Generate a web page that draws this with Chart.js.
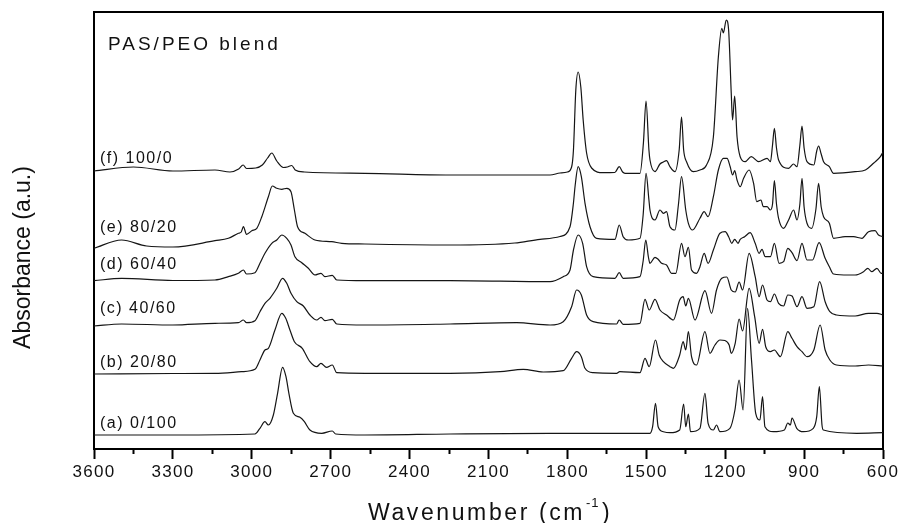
<!DOCTYPE html>
<html>
<head>
<meta charset="utf-8">
<script src="https://cdn.jsdelivr.net/npm/chart.js@4.4.0/dist/chart.umd.min.js"></script>
<style>
  html, body { margin: 0; padding: 0; background: #fff; }
  canvas { display: block; }
</style>
</head>
<body>
<canvas id="ftir" width="901" height="523"></canvas>
<script>
// FTIR spectra of PAS/PEO blends, [wavenumber (cm-1), absorbance (a.u., stacked)]
var traceF = [[3600,278],[3450,282],[3300,278],[3140,279],[3083,277],[3050,280],[3033,284],[3020,280.5],[2985,281],[2960,284],[2940,291],[2924,296],[2905,288],[2880,281.5],[2865,282],[2848,283.5],[2835,279],[2800,277],[2570,275.7],[2246,274],[1866,274],[1828,276],[1800,277],[1784,282],[1777,299],[1768,359],[1759,377],[1749,362],[1740,329],[1727,296],[1708,281],[1664,276.3],[1620,276.5],[1603,282.3],[1590,277],[1581,275.7],[1524,275.7],[1511,306],[1501,348],[1490,299],[1486,289],[1467,277.3],[1448,285],[1435,287],[1423,288.3],[1410,282.3],[1391,277.3],[1375,299],[1366,332],[1358,299],[1347,287.3],[1321,277.3],[1296,279],[1271,284],[1245,312],[1226,392],[1213,420.7],[1207,416],[1196,429],[1187,419],[1177,355.7],[1172,329],[1164,353],[1155,312.3],[1143,292.3],[1124,287.3],[1101,292.3],[1073,287.3],[1041,290.7],[1028,287.3],[1020,304],[1013,320.7],[1005,301],[997,289],[959,280.7],[940,285],[927,282.3],[916,304],[908,323],[900,301],[889,287.3],[863,284],[852,298],[845,303],[835,295],[826,287.3],[804,282.3],[788,275.7],[706,277.3],[667,279],[635,286],[610,292.3],[600,297]];

var traceE = [[3600,200.7],[3495,209],[3400,203],[3300,202],[3140,208.3],[3089,210.7],[3051,215.7],[3040,217],[3032,222.3],[3020,214.7],[3000,218.3],[2981,220.7],[2962,232.3],[2937,252.3],[2922,263],[2905,260.7],[2886,259.7],[2867,260.7],[2851,257.3],[2838,239],[2826,222.3],[2798,215.7],[2760,209],[2696,207.3],[2658,205.7],[2570,205],[2246,204],[2000,206],[1904,209.7],[1828,212.5],[1790,222.3],[1777,246],[1771,262.3],[1759,282.3],[1747,272.3],[1733,245.7],[1714,222.3],[1689,210.7],[1619,209.7],[1603,224],[1588,212.3],[1568,209],[1524,210.7],[1512,234],[1501,275.7],[1490,249],[1486,239],[1467,229],[1448,239],[1435,235.7],[1423,237.3],[1410,222.3],[1391,219],[1378,244],[1366,272.3],[1350,239],[1340,225.7],[1324,219],[1296,230.7],[1280,237.3],[1265,232.3],[1245,252.3],[1226,279],[1207,290.7],[1193,290.7],[1181,282.3],[1172,274],[1164,278.3],[1155,269],[1143,262.3],[1130,270.7],[1109,279],[1092,265.7],[1080,247.3],[1064,249],[1055,242.3],[1041,242.3],[1028,239],[1020,245],[1013,268.3],[1005,245],[997,230.7],[978,220.7],[959,229],[940,239],[927,229],[916,245],[908,270.7],[900,242],[889,225.7],[871,220.7],[855,240],[845,265.7],[835,242],[826,232.3],[804,225.7],[788,210.7],[744,212.3],[712,212.3],[680,210.7],[655,217.3],[630,218.3],[617,214],[600,212.3]];

var traceD = [[3600,168.3],[3495,170.7],[3300,168.5],[3140,169],[3089,172.3],[3051,175.7],[3032,179],[3020,175],[2988,176.3],[2969,185.7],[2950,195.7],[2924,205.7],[2905,209],[2886,214],[2867,210.7],[2851,204],[2836,192.3],[2810,186.3],[2785,180.7],[2760,174],[2737,175.7],[2722,172.3],[2694,173.7],[2677,169],[2570,168.3],[2246,168.3],[1866,167.3],[1816,172.3],[1790,179],[1777,199],[1759,214],[1742,205.7],[1727,182.3],[1702,172.3],[1619,170.7],[1603,176.3],[1588,170.7],[1524,172.3],[1512,188],[1502,209],[1492,192],[1486,185.7],[1467,191.7],[1455,189.7],[1442,185.7],[1423,184],[1404,175.7],[1388,175.7],[1366,205.7],[1353,192.3],[1340,201.7],[1328,179],[1309,175.7],[1296,182.3],[1280,195.7],[1265,185.7],[1245,199],[1220,215.7],[1200,217.3],[1187,212.3],[1175,205.7],[1164,209.7],[1151,205.7],[1143,209.7],[1126,212.3],[1105,216.3],[1086,205.7],[1071,195.7],[1060,199.7],[1048,192.3],[1028,192.3],[1013,205.7],[995,185.7],[978,187.3],[962,200.7],[946,196.3],[927,188.3],[908,205.7],[889,189],[868,189],[843,206.3],[820,190.7],[804,182.3],[788,175],[731,174],[706,174],[674,177.3],[658,180.7],[643,177.3],[623,180.7],[607,175.7],[600,176]];

var traceC = [[3600,123],[3495,125],[3300,124],[3140,125.7],[3051,126.3],[3032,129],[3020,126.3],[2988,128.3],[2969,137.3],[2950,145.7],[2931,150.7],[2905,160.7],[2883,170.7],[2867,165.7],[2851,155.7],[2829,147.3],[2804,143],[2779,134],[2753,129],[2737,131.7],[2722,128.3],[2694,129.7],[2677,125],[2570,124],[2246,125],[1993,126.3],[1866,124],[1816,127.3],[1784,142.3],[1765,159],[1747,154],[1727,134],[1702,127.3],[1613,125],[1603,129],[1588,124.7],[1524,125.7],[1505,149.7],[1489,139],[1467,149.7],[1448,139],[1423,134],[1397,129],[1373,149],[1360,152.3],[1350,143],[1340,150.7],[1315,129],[1277,158.3],[1252,135.7],[1233,159],[1213,170.7],[1194,172],[1177,159],[1162,157],[1147,167],[1134,159],[1109,195.7],[1086,172.3],[1071,152.3],[1058,164],[1041,149],[1028,147.3],[1013,155],[997,145.7],[978,143],[962,154],[946,153],[927,142.3],[908,152.3],[889,140.7],[863,142.3],[841,167.3],[820,147.3],[802,137.3],[777,134],[706,133],[655,135.7],[623,135.7],[600,134]];

var traceB = [[3600,75],[3300,75.5],[3140,75.7],[3039,77.3],[2988,79.7],[2969,89],[2950,99],[2937,100.7],[2912,119],[2886,135.7],[2871,130.7],[2855,119],[2838,107.3],[2808,100.7],[2779,87.3],[2753,82.3],[2737,85.7],[2716,81.7],[2694,84],[2677,76.3],[2570,75.7],[2246,75.7],[2056,77.3],[1968,79.7],[1892,77],[1816,78.3],[1784,90.7],[1765,97.3],[1747,92.3],[1733,80.7],[1702,76.3],[1613,75.7],[1601,77.3],[1524,76.3],[1505,90.7],[1489,82.3],[1465,109],[1451,94],[1435,87.3],[1410,82.3],[1397,80.7],[1373,94],[1360,107.3],[1350,99],[1340,117.3],[1328,92.3],[1309,84],[1277,117.3],[1258,95.7],[1239,104],[1220,109],[1201,108.5],[1185,104],[1177,95.7],[1162,105.7],[1147,130],[1134,118],[1109,160.7],[1088,132.3],[1071,105.7],[1058,119.7],[1046,102.3],[1028,97.3],[1013,99],[990,92.3],[962,117.3],[946,110.7],[927,102.3],[908,97.3],[889,92.3],[863,99],[839,124],[820,99],[802,89],[777,84],[706,83],[655,84],[600,83]];

var traceA = [[3600,14],[3300,14],[2988,15],[2969,20.7],[2950,27.3],[2937,24],[2918,34],[2902,55.7],[2883,81.7],[2870,72.3],[2859,55.7],[2842,35.7],[2817,31.7],[2800,27.3],[2779,19],[2734,15.7],[2694,18],[2681,15],[2570,14],[2246,15],[1866,15.7],[1486,15.7],[1476,22.3],[1465,45.7],[1455,22.3],[1435,17.3],[1410,16.3],[1373,19],[1358,45],[1350,22.3],[1340,35],[1332,17.3],[1296,20.7],[1277,55.7],[1265,25.7],[1245,19],[1233,24],[1220,17.3],[1182,20.7],[1163,39],[1147,69],[1132,39],[1115,140.7],[1100,89],[1084,35.7],[1068,29],[1058,52.3],[1049,22.3],[1017,17.3],[975,19],[962,26],[952,24],[946,31],[928,20.7],[903,17.3],[865,20.7],[852,32.3],[842,62.3],[832,24],[827,19],[700,15.7],[600,16.3]];

var traces = [traceF, traceE, traceD, traceC, traceB, traceA];
var traceLabels = ['(f) 100/0', '(e) 80/20', '(d) 60/40', '(c) 40/60', '(b) 20/80', '(a) 0/100'];
var labelBaseY = [163, 231.5, 269, 312.5, 366.5, 428];
var panelTitle = 'PAS/PEO blend';

var FONT = "'Liberation Sans', Arial, sans-serif";

var textPlugin = {
    id: 'texts',
    beforeDraw: function(chart) {
        chart.ctx.letterSpacing = '1.3px';
    },
    afterDraw: function(chart) {
        var ctx = chart.ctx;
        ctx.save();
        ctx.fillStyle = '#111';
        ctx.textAlign = 'left';
        ctx.textBaseline = 'alphabetic';

        ctx.font = '19px ' + FONT;
        ctx.letterSpacing = '3px';
        ctx.fillText(panelTitle, 108, 50);

        ctx.font = '16px ' + FONT;
        ctx.letterSpacing = '1.5px';
        for (var i = 0; i < traceLabels.length; i++) {
            ctx.fillText(traceLabels[i], 100, labelBaseY[i]);
        }

        // x axis title with superscript
        ctx.font = '23px ' + FONT;
        ctx.letterSpacing = '2.6px';
        ctx.fillText('Wavenumber (cm', 368, 520);
        ctx.font = '13px ' + FONT;
        ctx.letterSpacing = '1px';
        ctx.fillText('-1', 586, 507);
        ctx.font = '23px ' + FONT;
        ctx.letterSpacing = '0px';
        ctx.fillText(')', 602, 520);

        // y axis title
        ctx.translate(30, 257.5);
        ctx.rotate(-Math.PI / 2);
        ctx.textAlign = 'center';
        ctx.fillText('Absorbance (a.u.)', 0, 0);
        ctx.restore();
        ctx.letterSpacing = '0px';
    }
};

var datasets = traces.map(function(t, i) {
    return {
        label: traceLabels[i],
        data: t,
        borderColor: '#151515',
        borderWidth: 1.2,
        pointRadius: 0,
        fill: false,
        cubicInterpolationMode: 'monotone'
    };
});

var hiddenGrid = { display: true, drawOnChartArea: false, drawTicks: false };
var frameBorder = { display: true, color: '#000', width: 2 };

var chart = new Chart(document.getElementById('ftir').getContext('2d'), {
    type: 'line',
    data: { datasets: datasets },
    options: {
        responsive: false,
        animation: false,
        events: [],
        layout: { padding: 0 },
        plugins: {
            legend: { display: false },
            tooltip: { enabled: false }
        },
        scales: {
            x: {
                type: 'linear',
                position: 'bottom',
                min: 600,
                max: 3600,
                reverse: true,
                border: frameBorder,
                grid: {
                    display: true,
                    drawOnChartArea: false,
                    drawTicks: true,
                    tickLength: 10,
                    tickWidth: 2,
                    tickColor: '#000',
                    tickBorderDash: function(c) {
                        return (c.tick && c.tick.value % 300 === 0) ? [] : [4, 20];
                    }
                },
                ticks: {
                    stepSize: 150,
                    autoSkip: false,
                    maxRotation: 0,
                    color: '#111',
                    padding: 3,
                    font: { family: FONT, size: 17 },
                    callback: function(v) { return v % 300 === 0 ? String(v) : ''; }
                },
                afterFit: function(s) { s.height = 74; }
            },
            xTop: {
                type: 'linear',
                position: 'top',
                min: 600,
                max: 3600,
                reverse: true,
                border: frameBorder,
                grid: hiddenGrid,
                ticks: { display: false },
                afterFit: function(s) { s.height = 12; }
            },
            y: {
                type: 'linear',
                position: 'left',
                min: 0,
                max: 437,
                border: frameBorder,
                grid: hiddenGrid,
                ticks: { display: false },
                afterFit: function(s) { s.width = 94; }
            },
            yRight: {
                type: 'linear',
                position: 'right',
                min: 0,
                max: 437,
                border: frameBorder,
                grid: hiddenGrid,
                ticks: { display: false },
                afterFit: function(s) { s.width = 18; }
            }
        }
    },
    plugins: [textPlugin]
});
</script>
</body>
</html>
